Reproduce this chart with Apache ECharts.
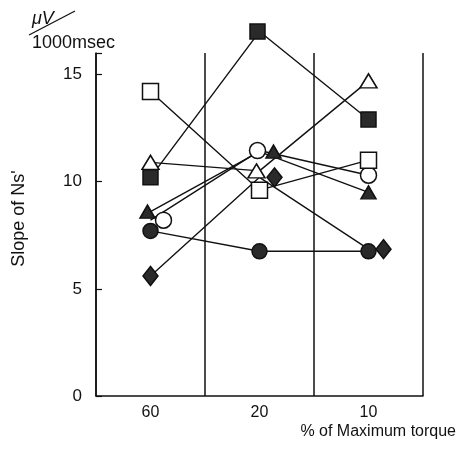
<!DOCTYPE html>
<html><head><meta charset="utf-8">
<script src="https://cdn.jsdelivr.net/npm/echarts@6/dist/echarts.min.js"></script>
<style>html,body{margin:0;padding:0;background:#fff}#c{width:464px;height:449px}</style>
</head><body><div id="c"></div>
<script>
const categories = ['60', '20', '10'];
const yTicks = [0, 5, 10, 15];
const openSquare   = [14.2, 9.6, 11.0];
const filledSquare = [10.2, 17.0, 12.9];
const openTriangle = [10.9, 10.5, 14.7];
const filledTriangle = [8.6, 11.4, 9.5];
const openCircle   = [8.2, 11.45, 10.3];
const filledCircle = [7.7, 6.75, 6.75];
const filledDiamond = [5.6, 10.2, 6.85];

const INK = '#111';
const FONT = 'Liberation Sans';
function mk(name, data, symbol, size, filled, offsets) {
  return {
    name, type: 'line', data: data.map((v, i) => ({
      value: v,
      symbolOffset: offsets && offsets[i] ? [offsets[i], 0] : [0, 0]
    })),
    symbol, symbolSize: size, showSymbol: true, clip: false,
    lineStyle: { color: INK, width: 1.4 },
    itemStyle: { color: filled ? '#2a2a2a' : '#fff', borderColor: INK, borderWidth: 1.5, opacity: 1 },
    emphasis: { disabled: true }, animation: false
  };
}

const chart = echarts.init(document.getElementById('c'));
chart.setOption({
  animation: false,
  grid: { left: 96, right: 41, top: 53, bottom: 53 },
  xAxis: {
    type: 'category', data: categories, boundaryGap: true,
    axisLine: { lineStyle: { color: INK, width: 1.5 } },
    axisTick: { show: false },
    axisLabel: { color: '#111', fontSize: 16, fontFamily: FONT, margin: 9 },
    splitLine: { show: true, lineStyle: { color: INK, width: 1.5 } }
  },
  yAxis: {
    type: 'value', min: 0, max: 16, interval: 5,
    name: "Slope of Ns'", nameLocation: 'middle', nameGap: 68,
    nameTextStyle: { color: '#111', fontSize: 18, fontFamily: FONT, padding: [0, 0, 0, 12] },
    axisLine: { show: true, lineStyle: { color: INK, width: 1.5 } },
    axisTick: { show: true, inside: true, length: 6, lineStyle: { color: INK, width: 1.2 } },
    axisLabel: { color: '#111', fontSize: 17, fontFamily: FONT, margin: 14,
      formatter: v => yTicks.includes(v) ? String(v) : '' },
    splitLine: { show: false }
  },
  graphic: [
    { type: 'text', left: 32, top: 10, style: { text: 'μV', fontSize: 18, fontStyle: 'italic', fontFamily: FONT, fill: '#111' } },
    { type: 'line', shape: { x1: 29, y1: 35, x2: 75, y2: 11 }, style: { stroke: '#111', lineWidth: 1.3 } },
    { type: 'text', left: 32, top: 34, style: { text: '1000msec', fontSize: 18, fontFamily: FONT, fill: '#111' } },
    { type: 'text', right: 8, top: 424, style: { text: '% of Maximum torque', fontSize: 16, fontFamily: FONT, fill: '#111' } }
  ],
  series: [
    mk('filledCircle', filledCircle, 'circle', 15, true),
    mk('filledDiamond', filledDiamond, 'diamond', [15, 19], true, [0, 15, 15]),
    mk('filledTriangle', filledTriangle, 'triangle', [15, 13], true, [-3, 14, 0]),
    mk('openCircle', openCircle, 'circle', 16, false, [13, -2, 0]),
    mk('openSquare', openSquare, 'rect', 16, false),
    mk('openTriangle', openTriangle, 'triangle', [17, 14], false, [0, -3, 0]),
    mk('filledSquare', filledSquare, 'rect', 15, true, [0, -2, 0])
  ]
});
</script></body></html>
